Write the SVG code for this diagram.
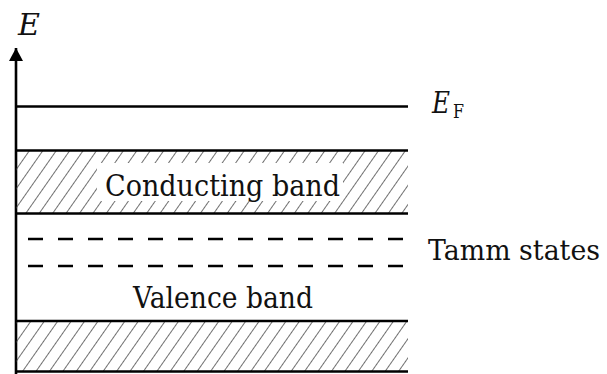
<svg xmlns="http://www.w3.org/2000/svg" width="607" height="374" viewBox="0 0 607 374">
<style>
.ln{stroke:#000;stroke-width:2.6;fill:none}
.dash{stroke:#000;stroke-width:2.6;fill:none;stroke-dasharray:15 15}
.t{font-family:"DejaVu Serif","Liberation Serif","Times New Roman",serif;fill:#111}
.big{font-size:30px}
.it{font-style:italic}
.sub{font-size:19px}
</style>
<defs>
<pattern id="hatch" patternUnits="userSpaceOnUse" width="11" height="20" patternTransform="rotate(35)">
<line x1="0" y1="-5" x2="0" y2="25" stroke="#333" stroke-width="1.4"/>
</pattern>
<marker id="arr" markerWidth="14" markerHeight="14" refX="13" refY="7" orient="auto" markerUnits="userSpaceOnUse">
<path d="M0,0 L13,7 L0,14 Z" fill="#000"/>
</marker>
</defs>
<rect width="607" height="374" fill="#fff"/>
<g id="axis">
<line class="ln" x1="16" y1="374" x2="16" y2="48" marker-end="url(#arr)"/>
<text class="t big it" x="18" y="35" textLength="22" lengthAdjust="spacingAndGlyphs">E</text>
</g>
<g id="fermi">
<line class="ln" x1="16" y1="106.5" x2="408" y2="106.5"/>
<text class="t big it" x="432" y="113" textLength="18" lengthAdjust="spacingAndGlyphs">E</text>
<text class="t sub" x="453" y="118" textLength="11" lengthAdjust="spacingAndGlyphs">F</text>
</g>
<g id="conducting">
<rect x="16" y="150.5" width="392" height="63" fill="url(#hatch)"/>
<rect x="97" y="163" width="246" height="38" fill="#fff"/>
<line class="ln" x1="16" y1="150.5" x2="408" y2="150.5"/>
<line class="ln" x1="16" y1="213.5" x2="408" y2="213.5"/>
<text class="t big" x="105" y="196" textLength="235" lengthAdjust="spacingAndGlyphs">Conducting band</text>
</g>
<g id="tamm">
<line class="dash" x1="28" y1="239" x2="408" y2="239"/>
<line class="dash" x1="28" y1="266" x2="408" y2="266"/>
<text class="t" font-size="28" x="428" y="260" textLength="172" lengthAdjust="spacingAndGlyphs">Tamm states</text>
</g>
<g id="valence">
<rect x="16" y="321" width="392" height="50.5" fill="url(#hatch)"/>
<line class="ln" x1="16" y1="321" x2="408" y2="321"/>
<line class="ln" x1="16" y1="371.5" x2="408" y2="371.5"/>
<text class="t big" x="133" y="308" textLength="180" lengthAdjust="spacingAndGlyphs">Valence band</text>
</g>
</svg>
